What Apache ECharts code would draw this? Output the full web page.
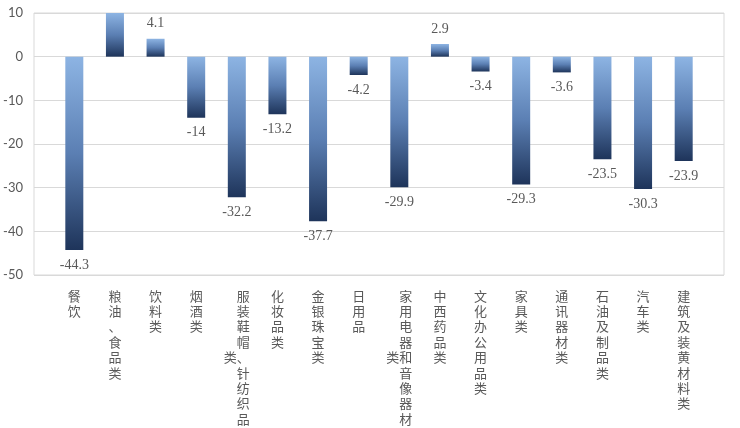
<!DOCTYPE html>
<html>
<head>
<meta charset="utf-8">
<script src="https://cdn.jsdelivr.net/npm/echarts@6/dist/echarts.min.js"></script>
<style>html,body{margin:0;padding:0;background:#fff}#c{width:740px;height:428px}</style>
</head>
<body>
<div id="c"></div>
<script>
var categories = ['餐饮','粮油、食品类','饮料类','烟酒类','服装鞋帽、针纺织品类','化妆品类','金银珠宝类','日用品','家用电器和音像器材类','中西药品类','文化办公用品类','家具类','通讯器材类','石油及制品类','汽车类','建筑及装黄材料类'];
var values = [-44.3, 12.3, 4.1, -14, -32.2, -13.2, -37.7, -4.2, -29.9, 2.9, -3.4, -29.3, -3.6, -23.5, -30.3, -23.9];
var hiddenLabels = ['粮油、食品类'];
var yTicks = {min: -50, max: 10, interval: 10};

function vertical(name) {
  var chars = name.split('');
  if (chars.length <= 9) return chars.join('\n');
  var main = chars.slice(0, 9), extra = chars.slice(9);
  var lines = main.map(function (ch, i) {
    return (i === 4 ? extra.join('') : '\u3000') + ch;
  });
  return lines.join('\n');
}

var grad = new echarts.graphic.LinearGradient(0, 0, 0, 1, [
  {offset: 0, color: '#8db4e3'},
  {offset: 0.5, color: '#5b7fb3'},
  {offset: 1, color: '#1e345a'}
]);

var data = values.map(function (v, i) {
  return {
    value: v,
    label: {
      show: hiddenLabels.indexOf(categories[i]) < 0,
      position: v < 0 ? 'bottom' : 'top'
    }
  };
});

var chart = echarts.init(document.getElementById('c'), null, {renderer: 'canvas'});
chart.setOption({
  animation: false,
  backgroundColor: '#ffffff',
  grid: [
    {left: 54, right: 36, top: 13, bottom: 153, containLabel: false},
    {left: 34, right: 16, top: 13, bottom: 153, show: true, borderColor: '#d9d9d9', borderWidth: 1, backgroundColor: 'transparent'}
  ],
  xAxis: [
    {
      type: 'category', gridIndex: 0, data: categories,
      axisLine: {show: false}, axisTick: {show: false},
      axisLabel: {
        interval: 0, margin: 13, color: '#595959',
        fontFamily: 'Noto Sans CJK SC', fontSize: 13, lineHeight: 15.4,
        verticalAlign: 'top',
        formatter: function (v) { return vertical(v); }
      }
    },
    {type: 'value', gridIndex: 1, show: false}
  ],
  yAxis: [
    {type: 'value', gridIndex: 0, min: yTicks.min, max: yTicks.max, interval: yTicks.interval, show: false, splitLine: {show: false}},
    {
      type: 'value', gridIndex: 1, min: yTicks.min, max: yTicks.max, interval: yTicks.interval,
      axisLine: {show: false}, axisTick: {show: false},
      axisLabel: {color: '#595959', fontFamily: 'Lato', fontSize: 13, margin: 11},
      splitLine: {lineStyle: {color: '#d9d9d9', width: 1}}
    }
  ],
  series: [{
    type: 'bar', xAxisIndex: 0, yAxisIndex: 0,
    data: data, barWidth: 18, clip: true,
    itemStyle: {color: grad},
    label: {
      show: true, distance: 8, color: '#595959',
      fontFamily: 'Liberation Serif', fontSize: 14
    }
  }]
});
</script>
</body>
</html>
